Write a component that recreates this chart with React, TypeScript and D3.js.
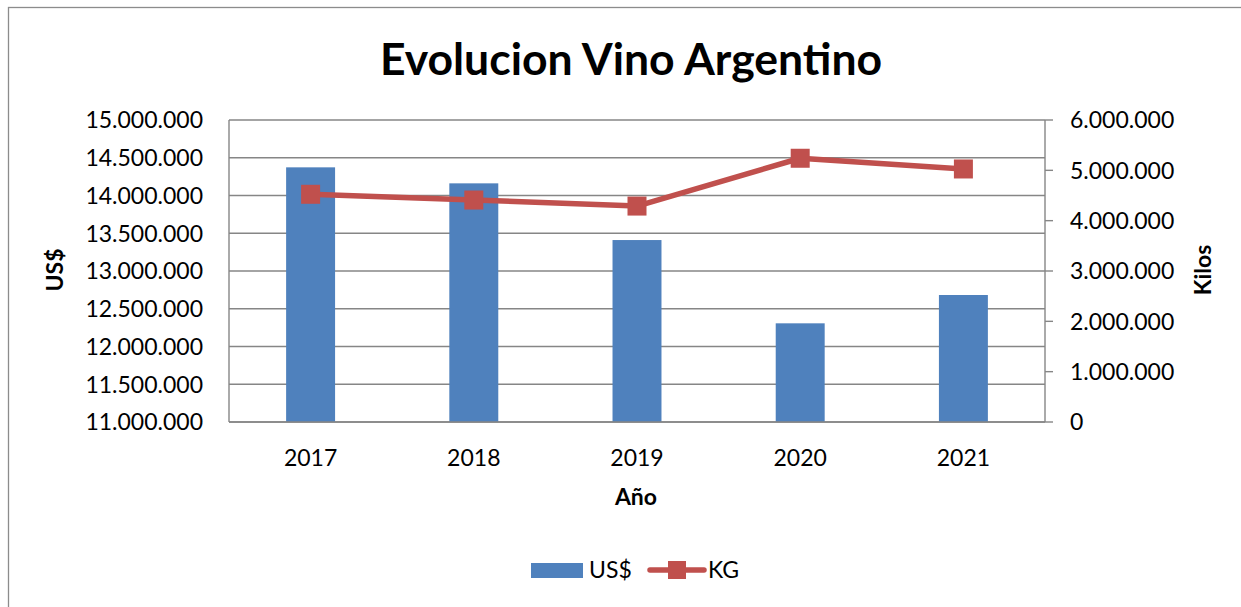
import React from "react";
import * as d3 from "d3";

const years = ["2017", "2018", "2019", "2020", "2021"];
const usd = [14373000, 14161000, 13410000, 12307000, 12682000];
const kg = [4524000, 4410000, 4290000, 5240000, 5027000];
const leftTicks = [11000000, 11500000, 12000000, 12500000, 13000000, 13500000, 14000000, 14500000, 15000000];
const rightTicks = [0, 1000000, 2000000, 3000000, 4000000, 5000000, 6000000];

const W = 1241;
const H = 607;
const L = 229, R = 1045, T = 120, B = 422;
const FONT = "Lato, 'Open Sans', sans-serif";
const fmt = (v: number) => (v === 0 ? "0" : d3.format(",")(v).replace(/,/g, "."));

export default function App() {
  const x = d3.scaleBand<string>().domain(years).range([L, R]).paddingInner(0.7).paddingOuter(0.35);
  const yL = d3.scaleLinear().domain([11000000, 15000000]).range([B, T]);
  const yR = d3.scaleLinear().domain([0, 6000000]).range([B, T]);
  const cx = (d: string) => (x(d) as number) + x.bandwidth() / 2;
  const line = d3.line<number>().x((_, i) => cx(years[i])).y((d) => yR(d));
  const grid = "#868686";
  const red = "#C0504D";
  const blue = "#4F81BD";
  const ms = 19;
  return (
    <svg width={W} height={H} style={{ position: "absolute", left: 0, top: 0 }} fontFamily={FONT}>
      <rect x={0} y={0} width={W} height={H} fill="#fff" />
      <rect x={8.5} y={7.5} width={1245} height={620} fill="none" stroke="#8c8c8c" strokeWidth={1.3} />
      <text x={631} y={75} textAnchor="middle" fontSize={44.5} fontWeight="bold" fill="#000">
        Evolucion Vino Argentino
      </text>
      {leftTicks.map((t) => (
        <line key={"g" + t} x1={L} x2={R} y1={yL(t)} y2={yL(t)} stroke={grid} strokeWidth={1.4} />
      ))}
      {years.map((d, i) => (
        <rect key={"b" + d} x={x(d)} y={yL(usd[i])} width={x.bandwidth()} height={B - yL(usd[i])} fill={blue} />
      ))}
      <line x1={L} x2={L} y1={T} y2={B} stroke={grid} strokeWidth={1.4} />
      <line x1={R} x2={R} y1={T} y2={B} stroke={grid} strokeWidth={1.4} />
      <line x1={L} x2={R} y1={B} y2={B} stroke={grid} strokeWidth={1.4} />
      {rightTicks.map((t) => (
        <line key={"rt" + t} x1={R} x2={R + 8} y1={yR(t)} y2={yR(t)} stroke={grid} strokeWidth={1.4} />
      ))}
      <path d={line(kg) as string} fill="none" stroke={red} strokeWidth={5.5} strokeLinejoin="round" />
      {kg.map((v, i) => (
        <rect key={"m" + i} x={cx(years[i]) - ms / 2} y={yR(v) - ms / 2} width={ms} height={ms} fill={red} />
      ))}
      {leftTicks.map((t) => (
        <text key={"lt" + t} x={203} y={yL(t)} dy="0.36em" textAnchor="end" fontSize={23} fill="#000">
          {fmt(t)}
        </text>
      ))}
      {rightTicks.map((t) => (
        <text key={"rl" + t} x={1070} y={yR(t)} dy="0.36em" textAnchor="start" fontSize={23} fill="#000">
          {fmt(t)}
        </text>
      ))}
      {years.map((d) => (
        <text key={"xl" + d} x={cx(d)} y={458} dy="0.36em" textAnchor="middle" fontSize={23} fill="#000">
          {d}
        </text>
      ))}
      <text x={636} y={497} dy="0.36em" textAnchor="middle" fontSize={23} fontWeight="bold" fill="#000">
        Año
      </text>
      <text transform="translate(55,270) rotate(-90)" dy="0.36em" textAnchor="middle" fontSize={23} fontWeight="bold" fill="#000">
        US$
      </text>
      <text transform="translate(1203,270) rotate(-90)" dy="0.36em" textAnchor="middle" fontSize={23} fontWeight="bold" fill="#000">
        Kilos
      </text>
      <rect x={531} y={563} width={52} height={15} fill={blue} />
      <text x={589} y={570} dy="0.36em" fontSize={23} fill="#000">US$</text>
      <line x1={650} x2={704} y1={570} y2={570} stroke={red} strokeWidth={5.5} strokeLinecap="round" />
      <rect x={668} y={561} width={18} height={18} fill={red} />
      <text x={708} y={570} dy="0.36em" fontSize={23} fill="#000">KG</text>
    </svg>
  );
}
